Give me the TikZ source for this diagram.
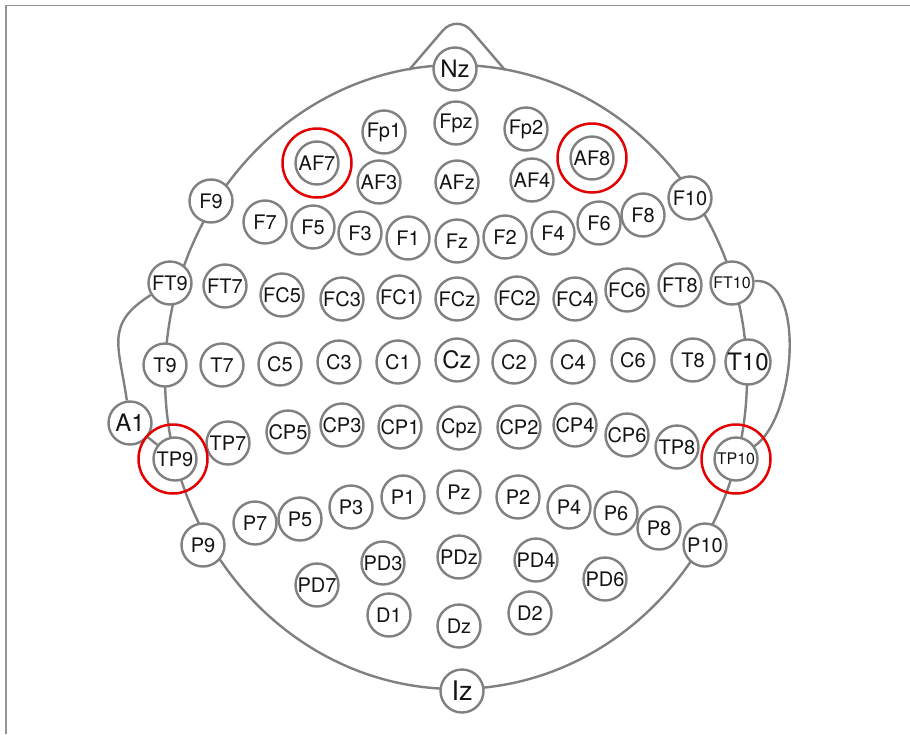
\documentclass[tikz,border=0pt]{standalone}
\usepackage{fontspec}
\setmainfont{TeX Gyre Heros}
\definecolor{linegray}{RGB}{128,128,128}
\definecolor{ringred}{RGB}{228,0,0}
\definecolor{labelblack}{RGB}{20,20,20}

\begin{document}
\begin{tikzpicture}[x=1pt,y=1pt,
  el/.style={circle,draw=linegray,line width=2.4pt,fill=white,minimum size=43pt,inner sep=0pt,text=labelblack,font=\fontsize{20}{20}\selectfont},
  elbig/.style={el,font=\fontsize{24}{24}\selectfont}, elhuge/.style={el,font=\fontsize{27}{27}\selectfont},
  elsmall/.style={el,font=\fontsize{16}{16}\selectfont},
  ring/.style={circle,draw=ringred,line width=2.5pt,minimum size=69pt,inner sep=0pt},
  outline/.style={draw=linegray,line width=2.4pt}]
\useasboundingbox (0,0) rectangle (910,-734);
% frame
\draw[linegray!85,line width=1.5pt] (6,-734) -- (6,-5.5) -- (910,-5.5);
% head and nose
\draw[outline] (456,-377) ellipse [x radius=291, y radius=312];
\draw[outline,rounded corners=22pt] (409,-70) -- (457,-14) -- (505,-70);
% nasion row
\node[elbig] (Nz) at (455,-69) {Nz};
\node[el] (Fp1) at (384,-132) {Fp1}; \node[el] (Fpz) at (456,-123) {Fpz}; \node[el] (Fp2) at (526,-129) {Fp2};
\node[el] (AF7) at (317,-163) {AF7}; \node[el] (AF3) at (379,-182) {AF3}; \node[el] (AFz) at (457,-182) {AFz};
\node[el] (AF4) at (532,-180) {AF4}; \node[el] (AF8) at (592,-158) {AF8};
% frontal row
\node[el] (F9) at (211,-201) {F9}; \node[el] (F7) at (265,-222) {F7}; \node[el] (F5) at (313,-227) {F5};
\node[el] (F3) at (360,-233) {F3}; \node[el] (F1) at (408,-238) {F1}; \node[el] (Fz) at (457,-241) {Fz};
\node[el] (F2) at (505,-237) {F2}; \node[el] (F4) at (553,-233) {F4}; \node[el] (F6) at (599,-223) {F6};
\node[el] (F8) at (643,-215) {F8}; \node[el] (F10) at (690,-198) {F10};
% fronto-central row
\node[el] (FT9) at (170,-283) {FT9}; \node[el] (FT7) at (225,-286) {FT7}; \node[el] (FC5) at (282,-295) {FC5};
\node[el] (FC3) at (342,-299) {FC3}; \node[el] (FC1) at (399,-297) {FC1}; \node[el] (FCz) at (457,-299) {FCz};
\node[el] (FC2) at (517,-298) {FC2}; \node[el] (FC4) at (575,-299) {FC4}; \node[el] (FC6) at (627,-290) {FC6};
\node[el] (FT8) at (680,-285) {FT8}; \node[elsmall] (FT10) at (732,-283) {FT10};
% central row
\node[el] (T9) at (165,-365) {T9}; \node[el] (T7) at (222,-365) {T7}; \node[el] (C5) at (280,-364) {C5};
\node[el] (C3) at (339,-362) {C3}; \node[el] (C1) at (398,-362) {C1}; \node[elbig] (Cz) at (457,-360) {Cz};
\node[el] (C2) at (514,-362) {C2}; \node[el] (C4) at (573,-362) {C4}; \node[el] (C6) at (633,-360) {C6};
\node[el] (T8) at (693,-360) {T8}; \node[elbig] (T10) at (748,-362) {T10};
\node[elbig] (A1) at (130,-423) {A1};
% centro-parietal row
\node[el] (TP9) at (175,-459) {TP9}; \node[el] (TP7) at (228,-443) {TP7}; \node[el] (CP5) at (288,-432) {CP5};
\node[el] (CP3) at (342,-425) {CP3}; \node[el] (CP1) at (400,-427) {CP1}; \node[el] (Cpz) at (459,-428) {Cpz};
\node[el] (CP2) at (519,-427) {CP2}; \node[el] (CP4) at (575,-425) {CP4}; \node[el] (CP6) at (627,-435) {CP6};
\node[el] (TP8) at (677,-447) {TP8}; \node[elsmall] (TP10) at (736,-459) {TP10};
% parietal row
\node[el] (P9) at (203,-545) {P9}; \node[el] (P7) at (255,-523) {P7}; \node[el] (P5) at (300,-519) {P5};
\node[el] (P3) at (351,-507) {P3}; \node[el] (P1) at (403,-497) {P1}; \node[el] (Pz) at (459,-492) {Pz};
\node[el] (P2) at (518,-497) {P2}; \node[el] (P4) at (569,-507) {P4}; \node[el] (P6) at (616,-513) {P6};
\node[el] (P8) at (659,-528) {P8}; \node[el] (P10) at (705,-545) {P10};
% lower rows
\node[el] (PD7) at (317,-585) {PD7}; \node[el] (PD3) at (383,-563) {PD3}; \node[el] (PDz) at (459,-557) {PDz};
\node[el] (PD4) at (536,-560) {PD4}; \node[el] (PD6) at (605,-579) {PD6};
\node[el] (D1) at (389,-615) {D1}; \node[el] (Dz) at (459,-626) {Dz}; \node[el] (D2) at (530,-613) {D2};
\node[elhuge] (Iz) at (462,-691) {Iz};
% ears
\draw[outline] (FT9) to[out=212,in=98,looseness=1.3] (A1);
\draw[outline] (A1) -- (TP9);
\draw[outline] (FT10) to[out=5,in=35,looseness=0.8] (TP10);
% marked electrodes
\node[ring] (mAF7) at (AF7) {}; \node[ring] (mAF8) at (AF8) {};
\node[ring] (mTP9) at (173,-459) {}; \node[ring] (mTP10) at (TP10) {};
\end{tikzpicture}
\end{document}
